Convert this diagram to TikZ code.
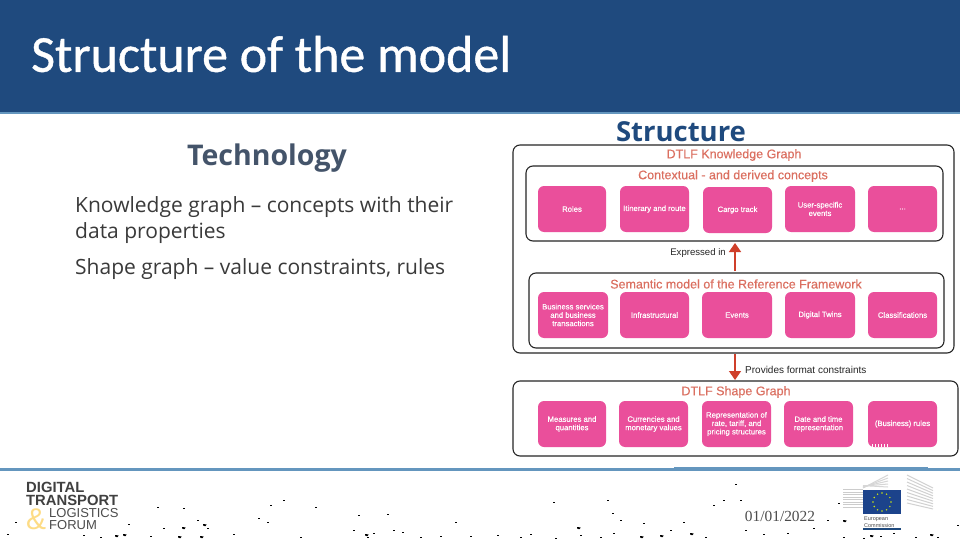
\documentclass[tikz,border=0pt]{standalone}
\usepackage{fontspec}
\setmainfont{Liberation Sans}
\newfontfamily\carl[FakeBold=0.8]{Carlito}
\newfontfamily\opens{Open Sans}
\newfontfamily\serifd{Liberation Serif}
\newfontfamily\semib[FakeBold=0.35]{Liberation Sans}
\definecolor{hdr}{HTML}{1F4A7E}
\definecolor{rule}{HTML}{6496BE}
\definecolor{pinkb}{HTML}{EA4F9B}
\definecolor{salmon}{HTML}{DB6F60}
\definecolor{arrowred}{HTML}{CF3F2A}
\definecolor{bodyt}{HTML}{3A3A3A}
\definecolor{techt}{HTML}{44546A}
\usetikzlibrary{arrows.meta}
\tikzset{
  x=1pt,y=-1pt,
  frame/.style={draw=black!85,line width=1.1pt,rounded corners=7pt,fill=white},
  pinkbox/.style={fill=pinkb,rounded corners=6pt,inner sep=0pt},
  pinklabel/.style={text=white,font=\semib\fontsize{7.7}{8.4}\selectfont,align=center},
  headlabel/.style={text=salmon,font=\semib\fontsize{12.5}{14}\selectfont},
  bodytext/.style={text=bodyt,font=\opens\fontsize{21}{26}\selectfont,anchor=west,inner sep=0pt},
  flow/.style={draw=arrowred,line width=1.5pt,-{Triangle[length=9pt,width=12pt]}},
  speck/.style={fill=black,inner sep=0pt}
}
\newcommand{\pbox}[6]{% name x1 y1 x2 y2 text
  \fill[pinkbox] (#2,#3) rectangle (#4,#5);
  \node[pinklabel] (#1) at ({(#2+#4)/2},{(#3+#5)/2}) {#6};}
\begin{document}
\begin{tikzpicture}
\useasboundingbox (0,0) rectangle (960,540);
\fill[white] (0,0) rectangle (960,540);
% header
\fill[hdr] (0,0) rectangle (960,112);
\fill[rule] (0,112) rectangle (960,114);
\node[anchor=west,inner sep=0pt,text=white,font=\carl\fontsize{52}{55}\selectfont] (title) at (31,54) {Structure of the model};
% left column
\node[text=techt,font=\opens\bfseries\fontsize{28.5}{30}\selectfont,inner sep=0pt] (tech) at (267,158) {Technology};
\node[bodytext] (b1) at (75,207) {Knowledge graph – concepts with their};
\node[bodytext] (b2) at (75,233) {data properties};
\node[bodytext] (b3) at (75,269) {Shape graph – value constraints, rules};
\node[text=hdr,font=\opens\bfseries\fontsize{27.5}{30}\selectfont,inner sep=0pt] (struct) at (681,132) {Structure};
% frames
\draw[frame] (513,145) rectangle (954,353);
\draw[frame] (526,166) rectangle (943,241);
\draw[frame] (529,273) rectangle (944,348);
\draw[frame] (513,381) rectangle (958,456);
\coordinate (ctxb) at (735,243);
\coordinate (semt) at (735,271);
\coordinate (outb) at (735,354);
\coordinate (shpt) at (735,380);
\draw[flow] (semt) -- (ctxb);
\draw[flow] (outb) -- (shpt);
\node[headlabel] (hk) at (734,155) {DTLF Knowledge Graph};
\node[headlabel] (hc) at (733,176) {Contextual - and derived concepts};
\node[headlabel] (hs) at (736,284) {Semantic model of the Reference Framework};
\node[headlabel] (hd) at (736,392) {DTLF Shape Graph};
\node[font=\fontsize{9.6}{10}\selectfont,text=black!85,anchor=east,inner sep=0pt] (l1) at (726,253) {Expressed in};
\node[font=\fontsize{10}{10}\selectfont,text=black!85,anchor=west,inner sep=0pt] (l2) at (745,370) {Provides format constraints};
% row 1
\pbox{r1}{538}{186}{606}{232}{Roles}
\pbox{r2}{620}{186}{689}{232}{Itinerary and route}
\pbox{r3}{703}{187}{772}{233}{Cargo track}
\pbox{r4}{785}{186}{855}{232}{User-specific\\events}
\pbox{r5}{868}{186}{937}{232}{...}
% row 2
\pbox{s1}{538}{292}{608}{338}{Business services\\and business\\transactions}
\pbox{s2}{620}{292}{689}{338}{Infrastructural}
\pbox{s3}{702}{292}{772}{338}{Events}
\pbox{s4}{785}{292}{855}{338}{Digital Twins}
\pbox{s5}{868}{292}{937}{338}{Classifications}
% row 3
\pbox{t1}{538}{401}{606}{447}{Measures and\\quantities}
\pbox{t2}{619}{401}{688}{447}{Currencies and\\monetary values}
\pbox{t3}{702}{401}{771}{447}{Representation of\\rate, tariff, and\\pricing structures}
\pbox{t4}{784}{401}{853}{447}{Date and time\\representation}
\pbox{t5}{868}{401}{937}{447}{(Business) rules}
\foreach \xx in {872,875,878,881,884,887}{\fill[white] (\xx,443.5) rectangle (\xx+1.4,447);}
% footer rule
\fill[rule] (0,468) rectangle (960,471);
\fill[rule] (674,467) rectangle (928,469);
% logo
\node[anchor=west,inner sep=0pt,text=black!75,font=\bfseries\fontsize{14.8}{12}\selectfont] (lg1) at (26,487) {DIGITAL};
\node[anchor=west,inner sep=0pt,text=black!75,font=\bfseries\fontsize{14.8}{12}\selectfont] (lg2) at (26,500) {TRANSPORT};
\node[anchor=west,inner sep=0pt,text=black!70,font=\fontsize{13}{12}\selectfont] (lg3) at (49,513) {LOGISTICS};
\node[anchor=west,inner sep=0pt,text=black!70,font=\fontsize{13}{12}\selectfont] (lg4) at (49,525) {FORUM};
\node[anchor=west,inner sep=0pt,text=yellow!45!orange!45,font=\fontsize{30}{30}\selectfont] (amp) at (26,519) {\&};
% date
\node[text=black!70,font=\serifd\fontsize{15.4}{17}\selectfont,inner sep=0pt] (date) at (780,516) {01/01/2022};
% EC logo
\foreach \yy/\tp in {489/863,491.5/866,494/869,496.5/863,499/863,501.5/863,504/863,506.5/863}{\fill[black!20] (843,\yy) rectangle (\tp,\yy+1.4);}
\foreach \yy in {0,3,...,12}{\draw[black!16,line width=1pt] (863,{488-\yy*0.2}) -- (888,{475+\yy});}
\foreach \yy in {0,3.5,...,31}{\draw[black!18,line width=1pt] (907,{475+\yy}) -- (933,{488+\yy*0.75});}
\fill[hdr!90!blue] (863,490) rectangle (901,514);
\foreach \a in {0,30,...,330}{\fill[yellow!80!green] ({882+9*cos(\a)},{502+9*sin(\a)}) circle (0.8);}
\node[anchor=west,inner sep=0pt,font=\fontsize{5.5}{6.5}\selectfont,text=black!70,align=left] (ec) at (864,522) {European\\Commission};
\fill[hdr] (863,528) rectangle (901,530);
% speckles
\foreach \p/\q in {157/507,183/508,283/500,270/505,315/507,358/515,387/514,258/518,267/522,233/534,150/536,83/535,353/530,373/533,393/530,402/532,367/537,440/536,455/522,128/524,15/522,7/534,553/502,607/500,735/484,723/500,740/500,713/505,612/513,620/520,643/523,683/522,613/533,580/535,530/534,497/535,555/538,763/534,787/533,827/520,838/503,813/528,843/537,863/538,893/533,937/537,957/525,163/528,197/520,207/528,100/537,300/537,420/537,470/536,520/537,600/537,670/530,705/537,745/530,880/536,915/537}{
  \fill[speck] (\p,\q) rectangle (\p+1.8,\q+1.4);}
\foreach \p/\q in {178/536,182/527,200/536,203/524,123/534,115/535,690/533,660/535,577/527,843/520,640/536,365/534,930/534,870/535}{
  \fill[speck] (\p,\q) -- (\p+3.6,\q+0.4) -- (\p+2.6,\q+2.2) -- (\p+0.4,\q+1.8) -- cycle;}
\end{tikzpicture}
\end{document}
